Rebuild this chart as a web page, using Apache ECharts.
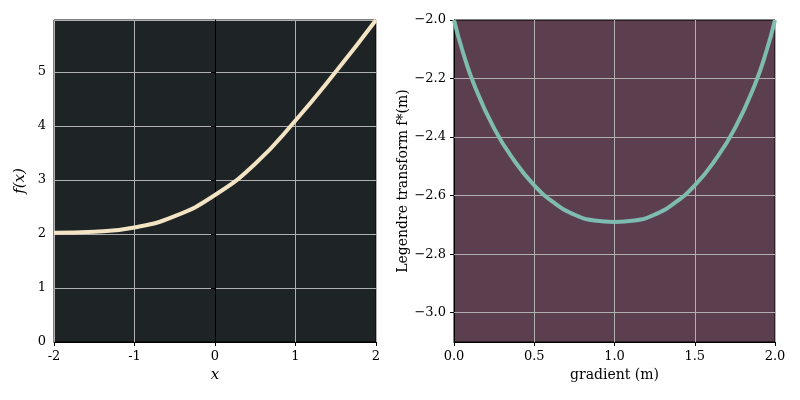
<!DOCTYPE html>
<html><head><meta charset="utf-8">
<script src="https://cdn.jsdelivr.net/npm/echarts@6/dist/echarts.min.js"></script>
<style>body{margin:0}#main{width:800px;height:400px}</style>
</head><body><div id="main"></div>
<script>
var fx = [-2, -1.5, -1, -0.5, 0, 0.5, 1, 1.5, 2];
var fy = [2.02, 2.04, 2.12, 2.33, 2.72, 3.3, 4.1, 5.0, 5.96];
var gm = [0, 0.05, 0.125, 0.25, 0.375, 0.5, 0.625, 0.75, 0.875, 1, 1.125, 1.25, 1.375, 1.5, 1.625, 1.75, 1.875, 1.95, 2];
var gy = [-2.0, -2.1, -2.22, -2.37, -2.48, -2.565, -2.625, -2.665, -2.685, -2.69, -2.685, -2.665, -2.625, -2.565, -2.48, -2.37, -2.22, -2.1, -2.0];
var rightTicks = [-3.0, -2.8, -2.6, -2.4, -2.2, -2.0];

var font = 'DejaVu Serif';
var lab = {color: '#000', fontFamily: font, fontSize: 13};
var split = {show: true, lineStyle: {color: '#b0b0b0', width: 1}};
var tick = {show: true, length: 4, inside: false, lineStyle: {color: '#000'}};
var line = {show: true, lineStyle: {color: '#000'}};

var myChart = echarts.init(document.getElementById('main'));
myChart.setOption({
	animation: false,
	grid: [
		{left: 54, width: 322, top: 20, height: 322, show: true, backgroundColor: '#1e2326', borderColor: '#000', borderWidth: 1},
		{left: 454, width: 321, top: 20, height: 322, show: true, backgroundColor: '#5c3f4e', borderColor: '#000', borderWidth: 1}
	],
	xAxis: [
		{gridIndex: 0, type: 'value', min: -2, max: 2, interval: 1, axisLine: line, axisTick: tick, splitLine: split,
			axisLabel: lab, name: 'x', nameLocation: 'middle', nameGap: 26,
			nameTextStyle: {fontFamily: font, fontStyle: 'italic', fontSize: 15, color: '#000'}},
		{gridIndex: 1, type: 'value', min: 0, max: 2, interval: 0.5, axisLine: line, axisTick: tick, splitLine: split,
			axisLabel: Object.assign({formatter: function (v) { return v.toFixed(1); }}, lab),
			name: 'gradient (m)', nameLocation: 'middle', nameGap: 26,
			nameTextStyle: {fontFamily: font, fontSize: 14, color: '#000'}}
	],
	yAxis: [
		{gridIndex: 0, type: 'value', min: 0, max: 5.96, interval: 1, axisLine: line, axisTick: tick, splitLine: split,
			axisLabel: Object.assign({showMaxLabel: false}, lab), name: 'f(x)', nameLocation: 'middle', nameGap: 26,
			nameTextStyle: {fontFamily: font, fontStyle: 'italic', fontSize: 15, color: '#000'}},
		{gridIndex: 1, type: 'value', min: -3.1, max: -2.0, interval: 0.1, axisLine: line,
			axisTick: Object.assign({customValues: rightTicks}, tick), splitLine: {show: false},
			axisLabel: Object.assign({customValues: rightTicks, formatter: function (v) { return (v < 0 ? '\u2212' : '') + Math.abs(v).toFixed(1); }}, lab),
			name: 'Legendre transform f*(m)', nameLocation: 'middle', nameGap: 44,
			nameTextStyle: {fontFamily: font, fontSize: 14, color: '#000'}}
	],
	series: [
		{type: 'line', xAxisIndex: 0, yAxisIndex: 0, smooth: true, showSymbol: false,
			lineStyle: {color: '#f3e4c4', width: 4}, data: fx.map(function (x, i) { return [x, fy[i]]; })},
		{type: 'line', xAxisIndex: 1, yAxisIndex: 1, smooth: true, showSymbol: false, z: 3,
			lineStyle: {color: '#7fbcb0', width: 4}, data: gm.map(function (x, i) { return [x, gy[i]]; }),
			markLine: {silent: true, symbol: 'none', label: {show: false}, z: 1,
				lineStyle: {color: '#b0b0b0', width: 1, type: 'solid'},
				data: rightTicks.slice(0, 5).map(function (v) { return {yAxis: v}; })}}
	]
});
</script></body></html>
